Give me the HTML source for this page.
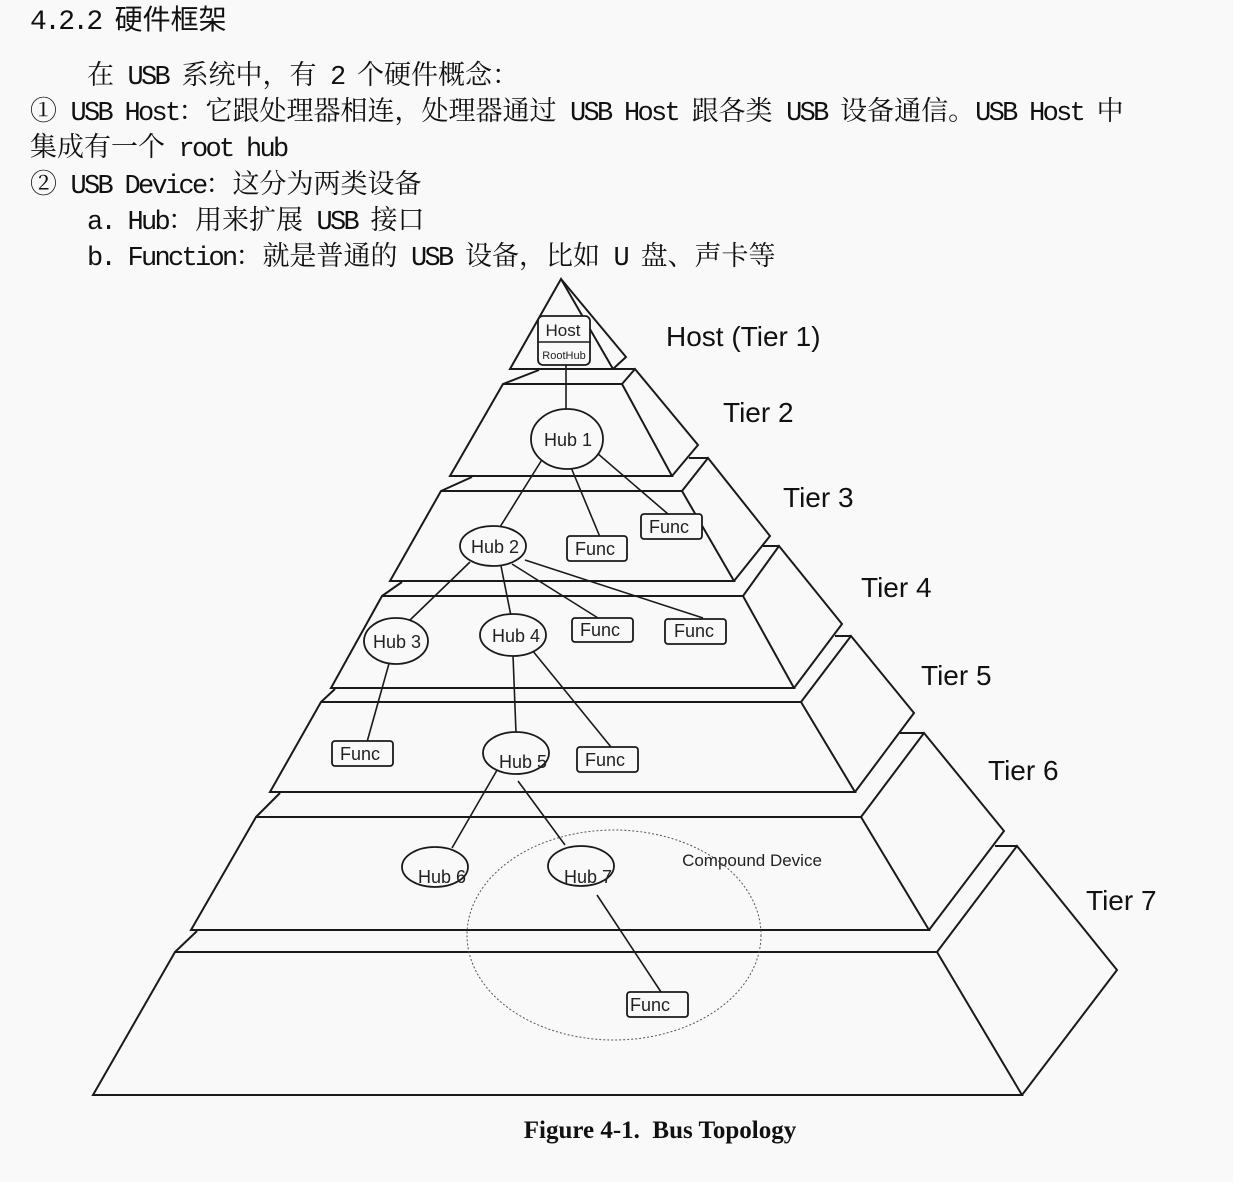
<!DOCTYPE html>
<html><head><meta charset="utf-8">
<style>
html,body{margin:0;padding:0;background:#f9f9f9;}
body{width:1233px;height:1182px;position:relative;overflow:hidden;}
.t{position:absolute;white-space:pre;font-family:"Noto Serif CJK SC","Noto Sans CJK SC",serif;font-size:27px;color:#111;line-height:36px;}
.m{font-family:"Liberation Mono",monospace;letter-spacing:-2.7px;}
svg{position:absolute;left:0;top:0;}
</style></head><body>
<div class="t" style="left:30px;top:0px;font-size:28px;"><span class="m">4.2.2 </span><span style="font-family:'Noto Sans CJK SC',sans-serif;">硬件框架</span></div>
<div class="t" style="left:87px;top:55px;">在<span class="m"> USB </span>系统中，有<span class="m"> 2 </span>个硬件概念：</div>
<div class="t" style="left:30px;top:91px;">①<span class="m"> USB Host</span>：它跟处理器相连，处理器通过<span class="m"> USB Host </span>跟各类<span class="m"> USB </span>设备通信。<span class="m">USB Host </span>中</div>
<div class="t" style="left:30px;top:127px;">集成有一个<span class="m"> root hub</span></div>
<div class="t" style="left:30px;top:164px;">②<span class="m"> USB Device</span>：这分为两类设备</div>
<div class="t" style="left:87px;top:200px;"><span class="m">a. Hub</span>：用来扩展<span class="m"> USB </span>接口</div>
<div class="t" style="left:87px;top:236px;"><span class="m">b. Function</span>：就是普通的<span class="m"> USB </span>设备，比如<span class="m"> U </span>盘、声卡等</div>

<svg width="1233" height="1182" viewBox="0 0 1233 1182" font-family="Liberation Sans, Arial, sans-serif">
<g fill="none" stroke="#1a1a1a" stroke-width="2" stroke-linejoin="miter">
<polygon points="561,279 510,369 613,369"/>
<polyline points="561,279 626,357 613,369"/>
<polygon points="503,384 622,384 672,476 450,476"/>
<polyline points="622,384 635,369 698,445 672,476"/>
<line x1="613" y1="369" x2="635" y2="369"/><line x1="539" y1="370" x2="503" y2="384"/>
<polygon points="441,491 682,491 734,581 390,581"/>
<polyline points="682,491 708,458 770,536 734,581"/>
<line x1="689" y1="458" x2="708" y2="458"/><line x1="472" y1="477" x2="441" y2="491"/>
<polygon points="382,596 743,596 794,688 331,688"/>
<polyline points="743,596 779,546 842,624 794,688"/>
<line x1="763" y1="546" x2="779" y2="546"/><line x1="402" y1="582" x2="382" y2="596"/>
<polygon points="321,702 801,702 855,792 270,792"/>
<polyline points="801,702 851,636 914,713 855,792"/>
<line x1="835" y1="636" x2="851" y2="636"/><line x1="335" y1="689" x2="321" y2="702"/>
<polygon points="256,817 861,817 929,930 191,930"/>
<polyline points="861,817 924,733 1004,831 929,930"/>
<line x1="900" y1="733" x2="924" y2="733"/><line x1="280" y1="793" x2="256" y2="817"/>
<polygon points="175,952 937,952 1022,1095 93,1095"/>
<polyline points="937,952 1017,846 1117,970 1022,1095"/>
<line x1="995" y1="846" x2="1017" y2="846"/><line x1="197" y1="931" x2="175" y2="952"/>
</g>
<ellipse cx="614" cy="935" rx="147" ry="105" fill="none" stroke="#555" stroke-width="1" stroke-dasharray="2,2"/>
<g stroke="#1a1a1a" stroke-width="1.6">
<line x1="566" y1="365" x2="566" y2="409"/>
<line x1="543" y1="458" x2="500" y2="527"/>
<line x1="570" y1="465" x2="600" y2="537"/>
<line x1="597" y1="453" x2="668" y2="514"/>
<line x1="470" y1="562" x2="410" y2="620"/>
<line x1="501" y1="566" x2="511" y2="616"/>
<line x1="512" y1="564" x2="598" y2="618"/>
<line x1="525" y1="560" x2="703" y2="618"/>
<line x1="390" y1="660" x2="367" y2="742"/>
<line x1="513" y1="655" x2="516" y2="733"/>
<line x1="532" y1="650" x2="611" y2="747"/>
<line x1="500" y1="765" x2="452" y2="848"/>
<line x1="518" y1="781" x2="565" y2="845"/>
<line x1="597" y1="895" x2="661" y2="992"/>
</g>
<g fill="#f9f9f9" stroke="#1a1a1a" stroke-width="1.8">
<rect x="538" y="316" width="52" height="49" rx="5"/>
<ellipse cx="567" cy="439" rx="36" ry="30"/>
<rect x="567" y="536" width="60" height="25" rx="3"/>
<rect x="641" y="514" width="61" height="25" rx="3"/>
<ellipse cx="493" cy="546" rx="33" ry="20"/>
<ellipse cx="396" cy="641" rx="32" ry="23"/>
<ellipse cx="513" cy="635" rx="33" ry="21"/>
<rect x="572" y="618" width="61" height="24" rx="3"/>
<rect x="665" y="619" width="61" height="25" rx="3"/>
<rect x="332" y="741" width="61" height="25" rx="3"/>
<rect x="577" y="747" width="61" height="25" rx="3"/>
<ellipse cx="516" cy="753" rx="33" ry="21"/>
<ellipse cx="435" cy="867" rx="33" ry="20"/>
<ellipse cx="581" cy="866" rx="33" ry="20"/>
<rect x="627" y="992" width="61" height="25" rx="3"/>
</g>
<line x1="538" y1="342" x2="590" y2="342" stroke="#1a1a1a" stroke-width="1.5"/>
<g fill="#222" font-size="18" text-anchor="middle">
<text x="563" y="336" font-size="17">Host</text>
<text x="564" y="359" font-size="11">RootHub</text>
<text x="568" y="446">Hub 1</text>
<text x="595" y="555">Func</text>
<text x="669" y="533">Func</text>
<text x="495" y="553">Hub 2</text>
<text x="397" y="648">Hub 3</text>
<text x="516" y="642">Hub 4</text>
<text x="600" y="636">Func</text>
<text x="694" y="637">Func</text>
<text x="360" y="760">Func</text>
<text x="605" y="766">Func</text>
<text x="523" y="768">Hub 5</text>
<text x="442" y="883">Hub 6</text>
<text x="588" y="883">Hub 7</text>
<text x="650" y="1011">Func</text>
<text x="752" y="866" font-size="17">Compound Device</text>
</g>
<g fill="#111" font-size="28">
<text x="666" y="346">Host (Tier 1)</text>
<text x="723" y="422">Tier 2</text>
<text x="783" y="507">Tier 3</text>
<text x="861" y="597">Tier 4</text>
<text x="921" y="685">Tier 5</text>
<text x="988" y="780">Tier 6</text>
<text x="1086" y="910">Tier 7</text>
</g>
<text x="660" y="1138" text-anchor="middle" font-family="Liberation Serif, serif" font-weight="bold" font-size="25" fill="#111">Figure 4-1.&#160; Bus Topology</text>
</svg>
</body></html>
